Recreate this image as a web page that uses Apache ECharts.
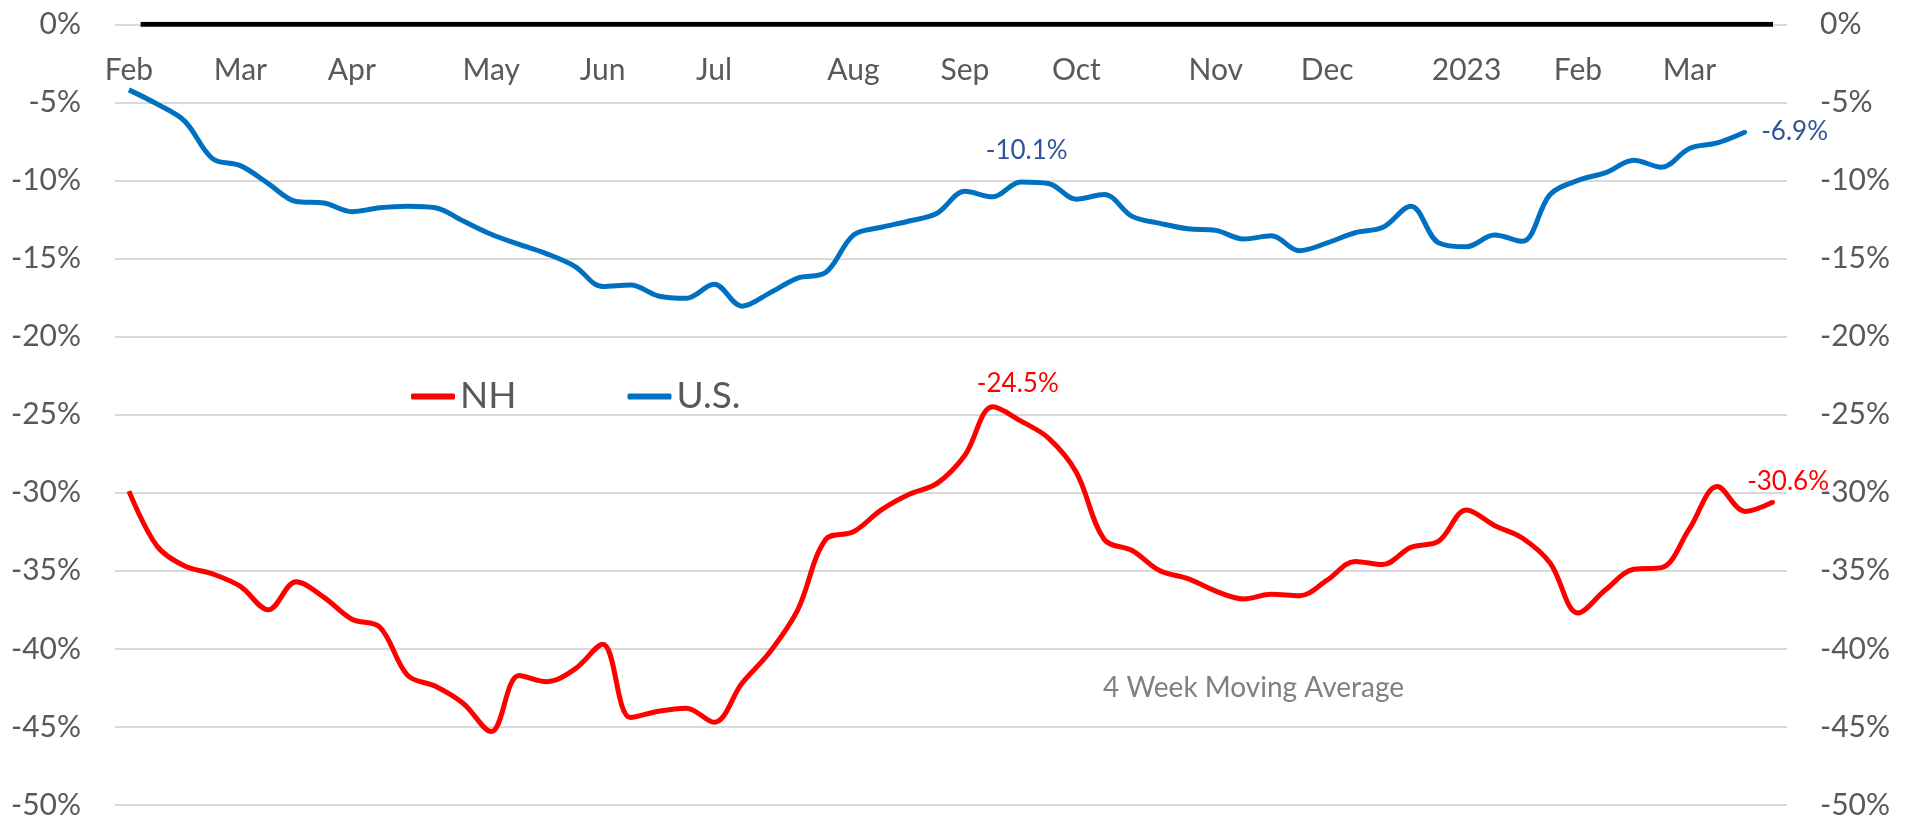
<!DOCTYPE html>
<html>
<head>
<meta charset="utf-8">
<script src="https://cdn.jsdelivr.net/npm/echarts@6/dist/echarts.min.js"></script>
<style>
  html, body { margin: 0; padding: 0; background: #fff; }
  #chart { width: 1912px; height: 820px; }
</style>
</head>
<body>
<div id="chart"></div>
<script>
// weekly periods, Feb 2022 - Mar 2023
const weeks = [
  "2022-02-05", "2022-02-12", "2022-02-19", "2022-02-26",
  "2022-03-05", "2022-03-12", "2022-03-19", "2022-03-26",
  "2022-04-02", "2022-04-09", "2022-04-16", "2022-04-23", "2022-04-30",
  "2022-05-07", "2022-05-14", "2022-05-21", "2022-05-28",
  "2022-06-04", "2022-06-11", "2022-06-18", "2022-06-25",
  "2022-07-02", "2022-07-09", "2022-07-16", "2022-07-23", "2022-07-30",
  "2022-08-06", "2022-08-13", "2022-08-20", "2022-08-27",
  "2022-09-03", "2022-09-10", "2022-09-17", "2022-09-24",
  "2022-10-01", "2022-10-08", "2022-10-15", "2022-10-22", "2022-10-29",
  "2022-11-05", "2022-11-12", "2022-11-19", "2022-11-26",
  "2022-12-03", "2022-12-10", "2022-12-17", "2022-12-24", "2022-12-31",
  "2023-01-07", "2023-01-14", "2023-01-21", "2023-01-28",
  "2023-02-04", "2023-02-11", "2023-02-18", "2023-02-25",
  "2023-03-04", "2023-03-11", "2023-03-18", "2023-03-25",
];

// month tick labels
const tickLabels = {
  "2022-02-05": "Feb", "2022-03-05": "Mar", "2022-04-02": "Apr",
  "2022-05-07": "May", "2022-06-04": "Jun", "2022-07-02": "Jul",
  "2022-08-06": "Aug", "2022-09-03": "Sep", "2022-10-01": "Oct",
  "2022-11-05": "Nov", "2022-12-03": "Dec", "2023-01-07": "2023",
  "2023-02-04": "Feb", "2023-03-04": "Mar",
};

const nhValues = [
  -29.9, -33.4, -34.7, -35.2, -36.0, -37.5, -35.7, -36.7, -38.1, -38.6,
  -41.7, -42.4, -43.5, -45.3, -41.7, -42.1, -41.3, -39.7, -44.4, -44.0,
  -43.8, -44.7, -42.2, -40.2, -37.5, -33.0, -32.5, -31.1, -30.1, -29.4,
  -27.6, -24.5, -25.4, -26.5, -28.7, -33.0, -33.7, -35.0, -35.5, -36.3,
  -36.8, -36.5, -36.6, -35.6, -34.4, -34.6, -33.5, -33.1, -31.1, -32.1,
  -32.9, -34.5, -37.7, -36.2, -34.9, -34.8, -32.3, -29.6, -31.2, -30.6,
];

const usValues = [
  -4.2, -5.1, -6.2, -8.6, -9.05, -10.2, -11.35, -11.45, -12.0, -11.75,
  -11.65, -11.75, -12.6, -13.45, -14.1, -14.7, -15.5, -16.8, -16.7, -17.4,
  -17.55, -16.65, -18.05, -17.2, -16.25, -15.9, -13.5, -13.0, -12.6, -12.1,
  -10.7, -11.05, -10.1, -10.2, -11.2, -10.9, -12.3, -12.75, -13.1, -13.2,
  -13.75, -13.55, -14.5, -14.0, -13.35, -13.0, -11.65, -14.0, -14.25, -13.5,
  -13.9, -10.9, -10.0, -9.5, -8.7, -9.15, -7.95, -7.6, -6.9, null,
];

// black zero line, in week-index units
const zeroLine = [[0.42, 0], [59, 0]];

const yTicks = { min: -50, max: 0, step: 5 };

const font = "Lato";
const grey = "#595959";

const labelText = (p) => `${Number(p.value).toFixed(1)}%`;

// which points get a value label, and where
const nhLabels = {
  31: { position: "top", distance: 8, offset: [25, 0] },
  59: { position: "top", distance: 5, offset: [15, 0] },
};
const usLabels = {
  32: { position: "top", distance: 16, offset: [6, 0] },
  58: { position: "right", distance: 14, offset: [0, 0] },
};

function withLabels(values, labels, color) {
  return values.map((v, i) =>
    labels[i]
      ? {
          value: v,
          symbol: "circle",
          symbolSize: 4,
          label: {
            show: true,
            color,
            fontSize: 26,
            fontFamily: font,
            formatter: labelText,
            ...labels[i],
          },
        }
      : { value: v, symbol: "none" },
  );
}

const chart = echarts.init(document.getElementById("chart"), null, {
  renderer: "canvas",
});

const yAxisBase = {
  type: "value",
  min: yTicks.min,
  max: yTicks.max,
  interval: yTicks.step,
  axisLine: { show: false },
  axisTick: { show: false },
};

const lineSeries = {
  type: "line",
  xAxisIndex: 0,
  yAxisIndex: 0,
  smooth: 0.35,
  showSymbol: true,
  showAllSymbol: true,
  symbol: "none",
};

chart.setOption({
  animation: false,
  backgroundColor: "#ffffff",
  textStyle: { fontFamily: font },
  grid: { left: 115, right: 125, top: 24.3, bottom: 13.3 },
  legend: {
    data: ["NH", "U.S."],
    left: 411,
    top: 378,
    padding: 0,
    icon: "roundRect",
    itemWidth: 44,
    itemHeight: 6,
    itemGap: 111,
    textStyle: { fontSize: 37, color: grey, fontFamily: font },
  },
  xAxis: [
    {
      type: "category",
      data: weeks,
      position: "top",
      boundaryGap: true,
      axisLine: { show: false },
      axisTick: { show: false },
      splitLine: { show: false },
      axisLabel: {
        inside: true,
        margin: 31,
        fontSize: 30,
        color: grey,
        fontFamily: font,
        interval: (i, v) => v in tickLabels,
        formatter: (v) => tickLabels[v] || "",
      },
    },
    {
      type: "value",
      show: false,
      min: -0.5,
      max: weeks.length - 0.5,
    },
  ],
  yAxis: [
    {
      ...yAxisBase,
      position: "left",
      axisLabel: {
        formatter: "{value}%",
        fontSize: 30,
        color: grey,
        fontFamily: font,
        margin: 34,
      },
      splitLine: { lineStyle: { color: "#d9d9d9", width: 2 } },
    },
    {
      ...yAxisBase,
      position: "right",
      axisLabel: {
        formatter: "{value}%",
        fontSize: 30,
        color: grey,
        fontFamily: font,
        margin: 33,
      },
      splitLine: { show: false },
    },
  ],
  series: [
    {
      name: "zero",
      type: "line",
      xAxisIndex: 1,
      yAxisIndex: 0,
      data: zeroLine,
      symbol: "none",
      silent: true,
      lineStyle: { color: "#000000", width: 5, cap: "butt" },
    },
    {
      ...lineSeries,
      name: "NH",
      data: withLabels(nhValues, nhLabels, "#ff0000"),
      color: "#ff0000",
      lineStyle: { color: "#ff0000", width: 5 },
    },
    {
      ...lineSeries,
      name: "U.S.",
      data: withLabels(usValues, usLabels, "#2f5597"),
      color: "#0070c0",
      lineStyle: { color: "#0070c0", width: 5 },
    },
  ],
  graphic: [
    {
      type: "text",
      left: 1103,
      top: 674,
      style: {
        text: "4 Week Moving Average",
        fontSize: 28,
        fontFamily: font,
        fill: "#808080",
      },
    },
  ],
});
</script>
</body>
</html>
